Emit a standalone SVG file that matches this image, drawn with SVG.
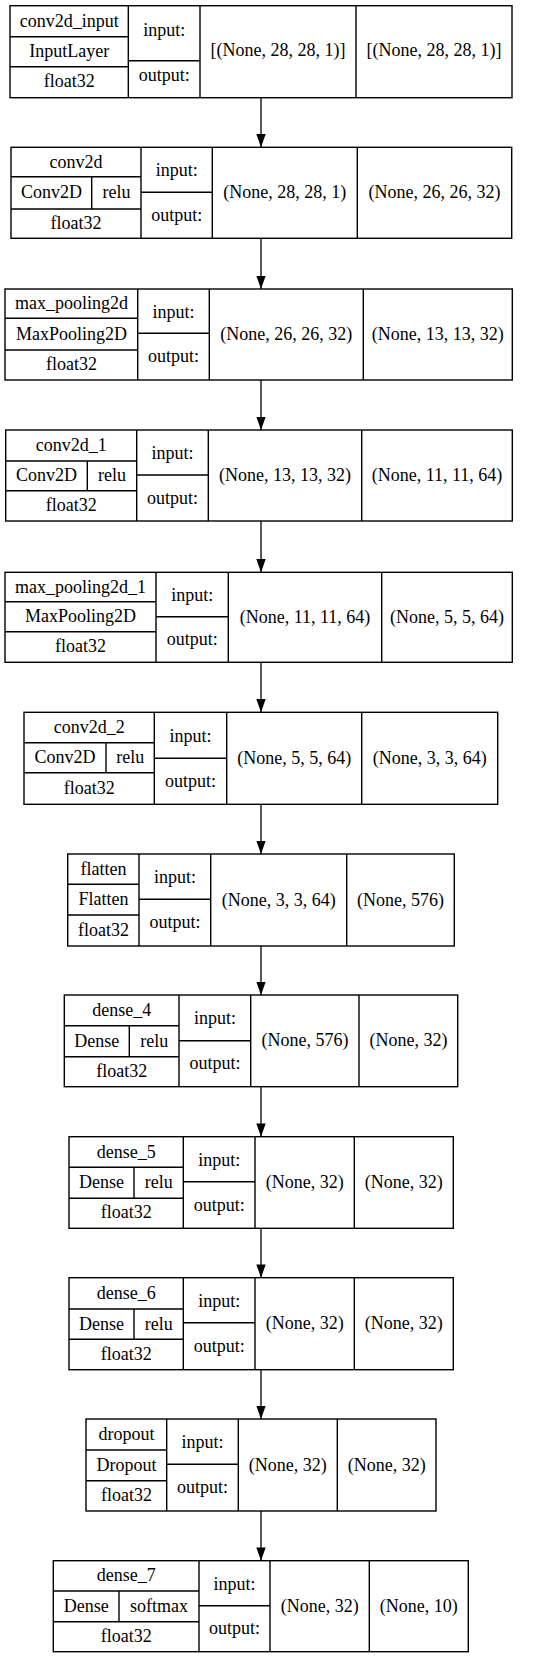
<svg xmlns="http://www.w3.org/2000/svg" width="535" height="1659" viewBox="0 0 535 1659">
<style>
.box{fill:#fff;stroke:#000;stroke-width:1.4}
.ln{stroke:#000;stroke-width:1.4;fill:none}
.edge{stroke:#000;stroke-width:1.3;fill:none}
text{font-family:"Liberation Serif","Times New Roman",serif;font-size:18px;text-anchor:middle;fill:#000}
</style>
<defs>
<marker id="ah" markerUnits="userSpaceOnUse" viewBox="0 0 13.3 9.4" refX="13.3" refY="4.7" markerWidth="13.3" markerHeight="9.4" orient="auto">
<path d="M0,0 L13.3,4.7 L0,9.4 z" fill="#000"/>
</marker>
</defs>
<rect x="0" y="0" width="535" height="1659" fill="#fff"/>

<g id="connectors">
<line class="edge" x1="261" y1="97.7" x2="261" y2="147.3" marker-end="url(#ah)"/>
<line class="edge" x1="261" y1="238.3" x2="261" y2="289" marker-end="url(#ah)"/>
<line class="edge" x1="261" y1="380" x2="261" y2="430" marker-end="url(#ah)"/>
<line class="edge" x1="261" y1="521" x2="261" y2="572.3" marker-end="url(#ah)"/>
<line class="edge" x1="261" y1="662.3" x2="261" y2="712.3" marker-end="url(#ah)"/>
<line class="edge" x1="261" y1="804.3" x2="261" y2="854" marker-end="url(#ah)"/>
<line class="edge" x1="261" y1="946" x2="261" y2="995" marker-end="url(#ah)"/>
<line class="edge" x1="261" y1="1086.7" x2="261" y2="1136.7" marker-end="url(#ah)"/>
<line class="edge" x1="261" y1="1228.3" x2="261" y2="1277.7" marker-end="url(#ah)"/>
<line class="edge" x1="261" y1="1369.7" x2="261" y2="1419" marker-end="url(#ah)"/>
<line class="edge" x1="261" y1="1511" x2="261" y2="1560.7" marker-end="url(#ah)"/>
</g>

<g id="conv2d_input">
<rect class="box" x="10" y="5.7" width="502" height="92"/>
<path class="ln" d="M128.3,5.7V97.7 M200,5.7V97.7 M356,5.7V97.7 M10,36.7H128.3 M10,66.7H128.3 M128.3,60.7H200"/>
<text x="69.2" y="26.7">conv2d_input</text>
<text x="69.2" y="57.3">InputLayer</text>
<text x="69.2" y="87.3">float32</text>
<text x="164.2" y="35.5">input:</text>
<text x="164.2" y="81">output:</text>
<text x="278" y="56">[(None, 28, 28, 1)]</text>
<text x="434" y="56">[(None, 28, 28, 1)]</text>
</g>

<g id="conv2d">
<rect class="box" x="11" y="147.3" width="500.7" height="91"/>
<path class="ln" d="M141,147.3V238.3 M212.3,147.3V238.3 M357.3,147.3V238.3 M11,176.7H141 M11,209H141 M91.7,176.7V209 M141,192.3H212.3"/>
<text x="76" y="167.5">conv2d</text>
<text x="51.4" y="198.3">Conv2D</text>
<text x="116.4" y="198.3">relu</text>
<text x="76" y="228.7">float32</text>
<text x="176.7" y="176.3">input:</text>
<text x="176.7" y="220.8">output:</text>
<text x="284.8" y="198.3">(None, 28, 28, 1)</text>
<text x="434.5" y="198.3">(None, 26, 26, 32)</text>
</g>

<g id="max_pooling2d">
<rect class="box" x="5" y="289" width="507.3" height="91"/>
<path class="ln" d="M137.7,289V380 M209.3,289V380 M363.3,289V380 M5,318.3H137.7 M5,350H137.7 M137.7,333.3H209.3"/>
<text x="71.4" y="309.2">max_pooling2d</text>
<text x="71.4" y="339.7">MaxPooling2D</text>
<text x="71.4" y="370">float32</text>
<text x="173.5" y="317.7">input:</text>
<text x="173.5" y="362.2">output:</text>
<text x="286.3" y="340">(None, 26, 26, 32)</text>
<text x="437.8" y="340">(None, 13, 13, 32)</text>
</g>

<g id="conv2d_1">
<rect class="box" x="5.7" y="430" width="506.6" height="91"/>
<path class="ln" d="M136.7,430V521 M208.3,430V521 M361.7,430V521 M5.7,461H136.7 M5.7,490.7H136.7 M87.3,461V490.7 M136.7,475H208.3"/>
<text x="71.2" y="451">conv2d_1</text>
<text x="46.5" y="481.4">Conv2D</text>
<text x="112" y="481.4">relu</text>
<text x="71.2" y="510.9">float32</text>
<text x="172.5" y="459">input:</text>
<text x="172.5" y="503.5">output:</text>
<text x="285" y="481">(None, 13, 13, 32)</text>
<text x="437" y="481">(None, 11, 11, 64)</text>
</g>

<g id="max_pooling2d_1">
<rect class="box" x="5" y="572.3" width="507.3" height="90"/>
<path class="ln" d="M156,572.3V662.3 M228.3,572.3V662.3 M381.7,572.3V662.3 M5,601.7H156 M5,631.7H156 M156,616.7H228.3"/>
<text x="80.5" y="592.5">max_pooling2d_1</text>
<text x="80.5" y="622.2">MaxPooling2D</text>
<text x="80.5" y="652">float32</text>
<text x="192.2" y="601">input:</text>
<text x="192.2" y="645">output:</text>
<text x="305" y="623">(None, 11, 11, 64)</text>
<text x="447" y="623">(None, 5, 5, 64)</text>
</g>

<g id="conv2d_2">
<rect class="box" x="24" y="712.3" width="473.7" height="92"/>
<path class="ln" d="M154.3,712.3V804.3 M226.7,712.3V804.3 M361.7,712.3V804.3 M24,742.7H154.3 M24,772.7H154.3 M106,742.7V772.7 M154.3,758.3H226.7"/>
<text x="89.2" y="733">conv2d_2</text>
<text x="65" y="763.2">Conv2D</text>
<text x="130.2" y="763.2">relu</text>
<text x="89.2" y="793.5">float32</text>
<text x="190.5" y="741.8">input:</text>
<text x="190.5" y="786.8">output:</text>
<text x="294.2" y="763.8">(None, 5, 5, 64)</text>
<text x="429.7" y="763.8">(None, 3, 3, 64)</text>
</g>

<g id="flatten">
<rect class="box" x="67.7" y="854" width="386.6" height="92"/>
<path class="ln" d="M139,854V946 M210.7,854V946 M346.7,854V946 M67.7,884.3H139 M67.7,915H139 M139,899.3H210.7"/>
<text x="103.4" y="874.7">flatten</text>
<text x="103.4" y="905.2">Flatten</text>
<text x="103.4" y="935.5">float32</text>
<text x="174.9" y="883.2">input:</text>
<text x="174.9" y="928.2">output:</text>
<text x="278.7" y="905.5">(None, 3, 3, 64)</text>
<text x="400.5" y="905.5">(None, 576)</text>
</g>

<g id="dense_4">
<rect class="box" x="64.3" y="995" width="393.4" height="91.7"/>
<path class="ln" d="M179,995V1086.7 M250.7,995V1086.7 M359,995V1086.7 M64.3,1025.7H179 M64.3,1056.7H179 M129.3,1025.7V1056.7 M179,1040.7H250.7"/>
<text x="121.7" y="1015.9">dense_4</text>
<text x="96.8" y="1046.7">Dense</text>
<text x="154.2" y="1046.7">relu</text>
<text x="121.7" y="1076.7">float32</text>
<text x="214.9" y="1024.4">input:</text>
<text x="214.9" y="1069.2">output:</text>
<text x="304.9" y="1046.4">(None, 576)</text>
<text x="408.4" y="1046.4">(None, 32)</text>
</g>

<g id="dense_5">
<rect class="box" x="69" y="1136.7" width="384.3" height="91.6"/>
<path class="ln" d="M183.3,1136.7V1228.3 M255,1136.7V1228.3 M354.3,1136.7V1228.3 M69,1167.3H183.3 M69,1198.3H183.3 M134,1167.3V1198.3 M183.3,1181.7H255"/>
<text x="126.2" y="1157.5">dense_5</text>
<text x="101.5" y="1188.3">Dense</text>
<text x="158.7" y="1188.3">relu</text>
<text x="126.2" y="1218.3">float32</text>
<text x="219.2" y="1165.7">input:</text>
<text x="219.2" y="1210.5">output:</text>
<text x="304.7" y="1188">(None, 32)</text>
<text x="403.8" y="1188">(None, 32)</text>
</g>

<g id="dense_6">
<rect class="box" x="69" y="1277.7" width="384.3" height="92"/>
<path class="ln" d="M183.3,1277.7V1369.7 M255,1277.7V1369.7 M354.3,1277.7V1369.7 M69,1309H183.3 M69,1339.3H183.3 M134,1309V1339.3 M183.3,1322.7H255"/>
<text x="126.2" y="1298.9">dense_6</text>
<text x="101.5" y="1329.7">Dense</text>
<text x="158.7" y="1329.7">relu</text>
<text x="126.2" y="1359.5">float32</text>
<text x="219.2" y="1306.7">input:</text>
<text x="219.2" y="1351.7">output:</text>
<text x="304.7" y="1329.2">(None, 32)</text>
<text x="403.8" y="1329.2">(None, 32)</text>
</g>

<g id="dropout">
<rect class="box" x="86" y="1419" width="350" height="92"/>
<path class="ln" d="M166.7,1419V1511 M238.3,1419V1511 M337.3,1419V1511 M86,1450H166.7 M86,1480.7H166.7 M166.7,1464.3H238.3"/>
<text x="126.4" y="1440">dropout</text>
<text x="126.4" y="1470.9">Dropout</text>
<text x="126.4" y="1500.9">float32</text>
<text x="202.5" y="1448.2">input:</text>
<text x="202.5" y="1493.2">output:</text>
<text x="287.8" y="1470.5">(None, 32)</text>
<text x="386.7" y="1470.5">(None, 32)</text>
</g>

<g id="dense_7">
<rect class="box" x="53.3" y="1560.7" width="415" height="91"/>
<path class="ln" d="M199,1560.7V1651.7 M270,1560.7V1651.7 M369.3,1560.7V1651.7 M53.3,1591H199 M53.3,1621.7H199 M119,1591V1621.7 M199,1605.7H270"/>
<text x="126.2" y="1581.4">dense_7</text>
<text x="86.2" y="1611.9">Dense</text>
<text x="159" y="1611.9">softmax</text>
<text x="126.2" y="1641.7">float32</text>
<text x="234.5" y="1589.7">input:</text>
<text x="234.5" y="1634.2">output:</text>
<text x="319.7" y="1611.7">(None, 32)</text>
<text x="418.8" y="1611.7">(None, 10)</text>
</g>
</svg>
